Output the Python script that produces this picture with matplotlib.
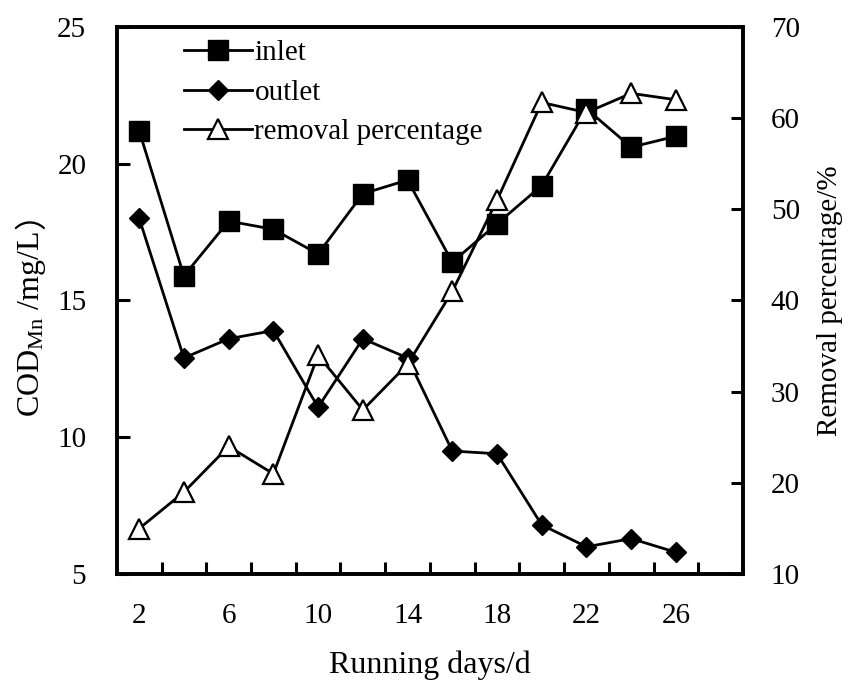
import matplotlib
matplotlib.use("Agg")
import matplotlib.pyplot as plt

days = [2, 4, 6, 8, 10, 12, 14, 16, 18, 20, 22, 24, 26]
inlet = [21.2, 15.9, 17.9, 17.6, 16.7, 18.9, 19.4, 16.4, 17.8, 19.2, 22.0, 20.6, 21.0]
outlet = [18.0, 12.9, 13.6, 13.9, 11.1, 13.6, 12.9, 9.5, 9.4, 6.8, 6.0, 6.3, 5.8]
removal = [15.0, 19.0, 24.0, 21.0, 34.0, 28.0, 33.0, 41.0, 51.0, 61.7, 60.6, 62.7, 62.0]
xtick_labels = [2, 6, 10, 14, 18, 22, 26]
xtick_marks = list(range(3, 28, 2))

FONT = ["Liberation Serif", "Noto Sans CJK SC"]
plt.rcParams["font.family"] = FONT
plt.rcParams["mathtext.fontset"] = "custom"
plt.rcParams["mathtext.rm"] = "Liberation Serif"
plt.rcParams["mathtext.it"] = "Liberation Serif:italic"
FS = 21

fig = plt.figure(figsize=(8.59, 6.86), dpi=100)
ax = fig.add_axes([0.136, 0.163, 0.729, 0.798])
ax2 = ax.twinx()

lw = 2.0
l1, = ax.plot(days, inlet, color="black", lw=lw, marker="s", ms=14,
              mfc="black", mec="black", label="inlet", zorder=3)
l2, = ax.plot(days, outlet, color="black", lw=lw, marker="D", ms=10,
              mfc="black", mec="black", label="outlet", zorder=3)
l3, = ax2.plot(days, removal, color="black", lw=lw, marker="^", ms=14,
               mfc="white", mec="black", mew=1.6, label="removal percentage", zorder=3)

ax.set_xlim(1, 29)
ax.set_ylim(5, 25)
ax2.set_ylim(10, 70)

ax.set_xticks(xtick_marks)
ax.set_xticklabels([])
ax.set_xticks(xtick_labels, minor=True)
ax.set_xticklabels([str(v) for v in xtick_labels], minor=True, fontsize=FS)
ax.tick_params(axis="x", which="major", direction="in", length=9, width=2.2)
ax.tick_params(axis="x", which="minor", length=0, pad=21)

ax.set_yticks([5, 10, 15, 20, 25])
ax.tick_params(axis="y", direction="in", length=9, width=2.2, labelsize=FS, pad=22)
ax2.set_yticks([10, 20, 30, 40, 50, 60, 70])
ax2.tick_params(axis="y", direction="in", length=9, width=2.2, labelsize=FS, pad=20)

for a in (ax, ax2):
    for s in a.spines.values():
        s.set_linewidth(2.6)

ax.set_xlabel("Running days/d", fontsize=FS + 2, labelpad=15)
ax2.set_ylabel("Removal percentage/%", fontsize=FS, labelpad=12)

# left label: mathtext part + full-width parenthesis drawn separately
LFS = FS + 2
yc = 1 - 308 / 686
ylab = fig.text(0.037, yc, r"COD$_{\mathrm{Mn}}$ /mg/L", rotation=90,
                fontsize=LFS, ha="center", va="center")
shift = LFS * 100 / 72 * 0.5
ylab.set_position((0.037, yc - shift / fig.bbox.height))
fig.canvas.draw()
bb = ylab.get_window_extent()
fig.text(0.038, (bb.y1 + 2) / fig.bbox.height, "）", rotation=90,
         fontsize=LFS, ha="center", va="bottom", family=["Noto Sans CJK SC"])

leg = ax.legend(handles=[l1, l2, l3], loc="upper left", bbox_to_anchor=(0.087, 1.0),
                frameon=False, fontsize=FS, handlelength=2.3, handletextpad=0.1,
                labelspacing=0.45, borderaxespad=0.05)

fig.savefig("out.png", dpi=100)
